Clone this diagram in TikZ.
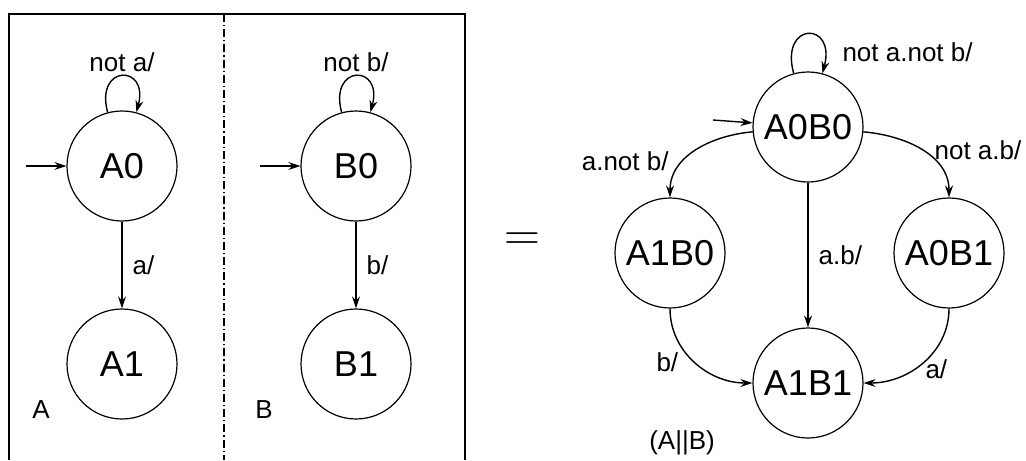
\documentclass[tikz,border=0pt]{standalone}
\usepackage{fontspec}
\setmainfont{Liberation Sans}
\usetikzlibrary{arrows.meta}
\tikzset{
  state/.style={circle, draw, line width=0.6pt, minimum size=55pt, inner sep=0pt, font=\fontsize{18}{20}\selectfont},
  trans/.style={-{Stealth[length=6pt,width=4pt]}, line width=0.7pt},
  lbl/.style={font=\fontsize{13}{15}\selectfont, inner sep=2pt},
}
\begin{document}
\begin{tikzpicture}[x=0.5pt, y=-0.5pt]
  \useasboundingbox (0,0) rectangle (1026,460);
  % frame round A and B
  \draw[line width=1pt] (9,460) |- (465,14) -- (465,460);
  \draw[line width=0.7pt, dash pattern={on 4pt off 1.5pt on 0.6pt off 1.5pt}] (224,14) -- (224,460);
  % machine A
  \node[state] (A0) at (122,166) {A0};
  \node[state] (A1) at (122,364) {A1};
  \coordinate (iA) at (26,166);
  \draw[trans] (iA) -- (A0);
  \draw[trans] (A0) to[out=105,in=75,distance=25pt] node[lbl,above] {not a/} (A0);
  \draw[trans] (A0) -- node[lbl,right=3pt] {a/} (A1);
  \node[lbl] (nameA) at (41,410) {A};
  % machine B
  \node[state] (B0) at (356,166) {B0};
  \node[state] (B1) at (356,364) {B1};
  \coordinate (iB) at (260,166);
  \draw[trans] (iB) -- (B0);
  \draw[trans] (B0) to[out=105,in=75,distance=25pt] node[lbl,above] {not b/} (B0);
  \draw[trans] (B0) -- node[lbl,right=3pt] {b/} (B1);
  \node[lbl] (nameB) at (264,410) {B};
  % equals
  \node (eq) at (522,242) {\fontsize{30}{30}\selectfont$=$};
  % product A||B
  \node[state] (A0B0) at (808,127) {A0B0};
  \node[state] (A1B0) at (670,253) {A1B0};
  \node[state] (A0B1) at (949,253) {A0B1};
  \node[state] (A1B1) at (808,383) {A1B1};
  \coordinate (iAB) at (713,120);
  \draw[trans] (iAB) -- (A0B0);
  \draw[trans] (A0B0) to[out=105,in=75,distance=27pt] node[lbl,pos=0.75,anchor=west,xshift=8pt,yshift=-4pt] {not a.not b/} (A0B0);
  \draw[trans] (A0B0) to[out=185,in=90] node[lbl,pos=0.6,left=7pt,yshift=-2pt] {a.not b/} (A1B0);
  \draw[trans] (A0B0) to[out=-5,in=90] node[lbl,pos=0.5,right=4pt] {not a.b/} (A0B1);
  \draw[trans] (A0B0) -- node[lbl,right=3pt] {a.b/} (A1B1);
  \draw[trans] (A1B0) to[out=-90,in=180] node[lbl,midway,left=6pt] {b/} (A1B1);
  \draw[trans] (A0B1) to[out=-90,in=0] node[lbl,pos=0.6,right=4pt] {a/} (A1B1);
  \node[lbl] (nameAB) at (682,443) {(A||B)};
\end{tikzpicture}
\end{document}
